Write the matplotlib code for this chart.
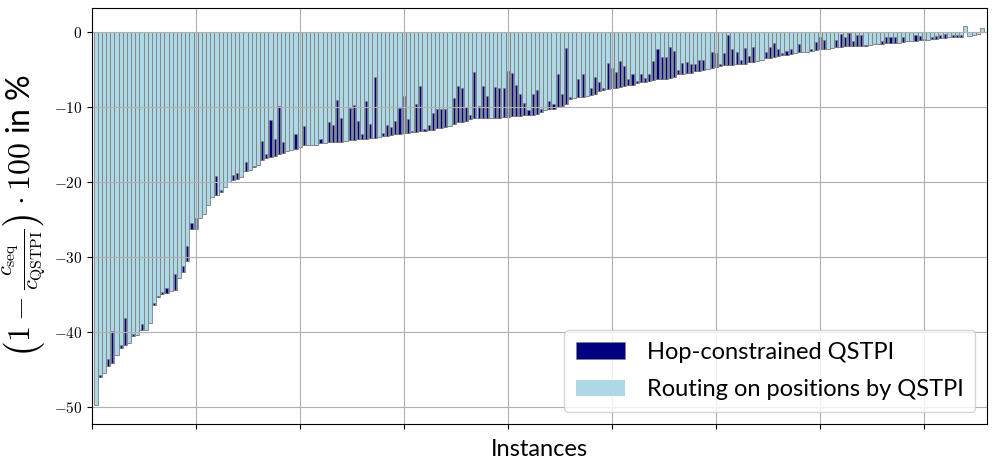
import numpy as np
import matplotlib.pyplot as plt

plt.rcParams['mathtext.fontset'] = 'cm'
plt.rcParams['font.family'] = ['Lato', 'DejaVu Sans']

# relative cost difference per instance, sorted (light blue)
routing = [
    -49.7, -46.0, -45.5, -44.5, -44.1, -43.1, -42.2, -41.7, -41.5, -40.6,
    -40.4, -39.8, -39.7, -38.8, -36.4, -35.3, -35.0, -34.8, -34.6, -34.4,
    -32.8, -32.0, -30.6, -26.3, -26.2, -24.8, -24.3, -23.1, -22.0, -21.7,
    -21.3, -20.6, -20.0, -19.7, -19.6, -19.3, -18.5, -18.4, -18.0, -17.7,
    -17.1, -16.8, -16.7, -16.5, -16.2, -16.1, -15.9, -15.7, -15.6, -15.3,
    -15.1, -15.1, -15.1, -15.0, -14.8, -14.8, -14.7, -14.7, -14.6, -14.6,
    -14.5, -14.4, -14.4, -14.3, -14.2, -14.2, -14.1, -14.1, -14.0, -13.9,
    -13.8, -13.7, -13.6, -13.6, -13.5, -13.4, -13.3, -13.3, -13.2, -13.2,
    -13.1, -13.0, -12.8, -12.8, -12.7, -12.5, -12.2, -12.0, -12.0, -11.9,
    -11.6, -11.5, -11.5, -11.5, -11.5, -11.5, -11.5, -11.4, -11.3, -11.3,
    -11.2, -11.2, -11.2, -11.1, -11.1, -11.0, -10.9, -10.7, -10.4, -10.3,
    -10.2, -10.0, -9.9, -9.6, -8.9, -8.8, -8.7, -8.6, -8.5, -8.4,
    -8.2, -7.9, -7.7, -7.6, -7.5, -7.4, -7.3, -7.2, -7.1, -7.0,
    -6.8, -6.7, -6.6, -6.5, -6.4, -6.3, -6.2, -6.2, -6.1, -6.0,
    -5.6, -5.6, -5.5, -5.4, -5.2, -5.2, -5.0, -4.9, -4.8, -4.6,
    -4.5, -4.4, -4.4, -4.4, -4.3, -4.3, -4.2, -4.0, -4.0, -3.8,
    -3.7, -3.5, -3.4, -3.3, -3.2, -3.1, -3.0, -2.9, -2.8, -2.7,
    -2.6, -2.6, -2.5, -2.4, -2.3, -2.2, -2.2, -2.1, -2.0, -2.0,
    -1.9, -1.9, -1.9, -1.8, -1.8, -1.8, -1.7, -1.6, -1.6, -1.6,
    -1.5, -1.5, -1.4, -1.4, -1.3, -1.2, -1.2, -1.2, -1.1, -1.1,
    -1.0, -0.9, -0.9, -0.8, -0.8, -0.7, -0.7, -0.6, -0.6, 0.8,
    -0.5, -0.4, -0.3, 0.6,
]

# hop-constrained result per instance (None = same as routing)
hop = [
    None, -45.7, None, -43.6, -39.9, None, -41.8, -38.2, None, -40.3,
    None, -39.0, None, None, -36.1, -35.2, -34.7, -34.2, None, -32.3,
    None, -31.2, -28.6, -25.5, -24.8, None, None, None, None, -19.2,
    -21.0, None, None, -19.1, -18.8, None, -17.3, None, -17.8, None,
    -14.5, -16.3, -11.7, -14.3, -9.9, -14.7, None, None, -13.6, None,
    -12.5, None, None, None, -14.3, None, -12.0, -12.4, -9.0, -11.4,
    None, -10.1, -9.7, -11.9, -13.6, -9.2, -12.3, -6.0, None, -13.4,
    -12.4, -12.7, -11.9, -10.1, -8.5, -11.6, -13.2, -9.6, -7.2, -12.9,
    -12.4, -10.8, -10.2, -10.2, -10.2, None, -8.8, -7.2, -7.4, -10.0,
    -11.0, -5.3, -9.8, -7.2, -8.5, None, -7.3, -7.4, -7.4, -5.2,
    -5.5, -7.1, -8.2, -9.5, -10.4, -8.3, -7.7, -10.2, None, -9.2,
    -9.6, -5.6, -8.2, -2.1, -8.7, None, -6.2, -5.6, None, -7.5,
    -6.0, -6.6, -7.4, -4.1, -4.8, -5.3, -3.8, -4.5, -6.3, -5.6,
    -6.5, -5.6, -6.1, -5.6, -3.8, -2.3, -3.3, -3.3, -2.0, -2.5,
    -5.1, -4.1, -4.0, -4.3, -4.3, -3.7, -3.7, None, -2.6, -2.8,
    -4.2, -2.8, -0.4, -2.2, -2.7, -3.7, -2.1, -3.2, -2.0, None,
    None, -2.7, -2.0, -1.5, -2.3, -2.8, -2.5, -2.2, None, -1.6,
    None, None, -2.3, -1.3, -0.7, -1.1, None, None, -1.0, -0.2,
    -0.7, -0.1, -1.2, -0.4, -0.4, -1.7, None, None, None, -1.2,
    -0.7, -0.6, -0.7, None, -0.7, None, None, -0.4, -0.5, -0.9,
    None, -0.7, -0.5, -0.4, -0.2, None, -0.4, -0.4, -0.4, None,
    None, None, None, None,
]

yticks = [-50, -40, -30, -20, -10, 0]

routing = np.array(routing)
hop = np.array([r if h is None else h for r, h in zip(routing, hop)])
x = np.arange(len(routing)) + 0.4

fig = plt.figure(figsize=(9.96, 4.66), dpi=100)
ax = fig.add_axes([0.0924, 0.0901, 0.8986, 0.8927])

# navy part: from the routing value up to the hop-constrained value
hop_bars = ax.bar(x + 0.25, hop - routing, bottom=routing, width=0.5, align='edge',
                  color='navy', edgecolor='gray', linewidth=0.4,
                  label='Hop-constrained QSTPI', zorder=1.2)
route_bars = ax.bar(x, routing, width=1.0, align='edge', color='lightblue',
                    edgecolor='gray', linewidth=0.6,
                    label='Routing on positions by QSTPI', zorder=1.0)

ax.set_xlim(0, 215.1)
ax.set_ylim(-52.27, 3.2)
ax.set_xticks(np.arange(0, 201, 25))
ax.set_xticklabels([])
ax.set_yticks(yticks)
ax.set_yticklabels([f'${v}$' for v in yticks], fontsize=11)
ax.grid(True, color='#b0b0b0', linewidth=0.8)

ax.set_xlabel('Instances', fontsize=17)
ax.set_ylabel(r'$\left(1-\frac{c_{\mathrm{seq}}}{c_{\mathrm{QSTPI}}}\right)\cdot 100$ in %',
              fontsize=23, labelpad=4)

leg = ax.legend(loc='lower right', fontsize=17, handlelength=2.1,
                handletextpad=0.9, labelspacing=0.7, borderpad=0.5)
leg.legend_handles[1].set_edgecolor('none')

fig.savefig('out.png', dpi=100)
